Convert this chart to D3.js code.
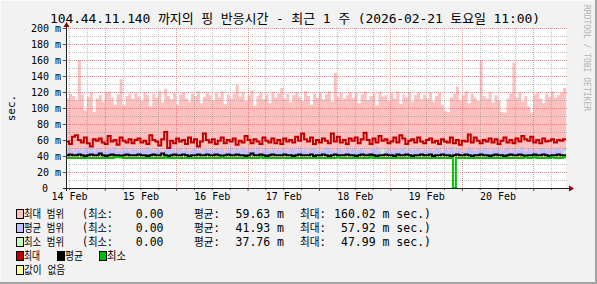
<!DOCTYPE html>
<html>
<head>
<meta charset="utf-8">
<script src="https://cdn.jsdelivr.net/npm/d3@7"></script>
<style>
html, body { margin: 0; padding: 0; background: #f2f2f2; }
svg { display: block; }
text { font-family: "DejaVu Sans Mono", "Noto Sans CJK KR", monospace; white-space: pre; }
</style>
</head>
<body>
<svg id="chart" width="597" height="284"></svg>
<script>
// chart text
const title = "104.44.11.140 까지의 핑 반응시간 - 최근 1 주 (2026-02-21 토요일 11:00)";
const yAxisTitle = "sec.";
const watermark = "RRDTOOL / TOBI OETIKER";

// time span: one week, hourly samples
const startTime = new Date(2026, 1, 14, 11, 0);
const endTime = new Date(2026, 1, 21, 11, 0);
const dayLabels = ["14 Feb", "15 Feb", "16 Feb", "17 Feb", "18 Feb", "19 Feb", "20 Feb"];

const yTicks = [0, 20, 40, 60, 80, 100, 120, 140, 160, 180, 200];
const yTickLabels = ["0", "20 m", "40 m", "60 m", "80 m", "100 m", "120 m", "140 m", "160 m", "180 m", "200 m"];

// max range top (ms)
const rangeMaxHi = [
  112,118,115,110,160,117,97,114,120,95,112,116,108,119,121,113,104,117,136,103,115,118,112,119,
  114,109,120,116,102,118,113,121,107,124,115,111,119,104,117,120,112,108,118,115,121,106,114,119,
  116,110,119,113,121,105,117,112,118,129,114,120,109,116,122,103,115,119,111,117,106,120,113,118,
  125,112,118,107,116,120,114,109,121,115,104,118,113,119,111,117,121,108,144,114,119,112,116,120,
  113,119,106,117,121,110,115,118,103,120,114,116,109,119,112,121,105,117,113,120,108,116,119,111,
  117,112,120,108,115,119,104,96,95,113,118,127,110,116,121,106,118,113,109,160,115,112,120,107,
  116,110,95,94,112,118,157,113,120,108,115,102,94,117,119,112,106,118,114,121,113,116,119,125
];
// max line (ms)
const maxLine = [
  58,55,64,66,60,57,63,56,52,61,59,62,57,55,65,58,60,54,63,59,57,61,56,60,
  62,57,59,55,66,60,58,53,61,70,50,59,56,62,58,60,55,63,57,61,52,58,68,60,
  57,61,55,59,63,56,60,58,62,54,59,57,65,60,56,61,58,55,63,59,57,62,56,60,
  55,62,58,60,57,64,59,68,61,58,63,55,60,57,62,59,56,68,58,64,57,60,55,62,
  59,63,56,61,69,60,55,62,57,65,59,61,56,58,63,57,66,62,55,59,61,57,63,58,
  56,60,62,57,59,55,61,58,57,63,56,60,54,59,58,67,57,63,59,56,60,58,62,57,
  61,55,59,63,57,60,56,62,58,65,61,59,64,57,60,56,62,58,59,61,57,60,59,61
];
// average range top (ms)
const rangeAvgHi = [
  47,49,46,50,48,45,51,47,49,46,48,50,47,45,49,48,51,46,48,47,50,46,49,48,
  46,49,47,51,48,46,50,47,45,49,48,52,46,48,50,47,49,46,48,51,47,45,49,48,
  48,46,50,47,49,45,48,51,46,49,47,50,48,46,49,47,51,45,48,50,46,49,47,48,
  47,50,46,48,49,46,51,47,48,45,49,50,47,46,48,51,49,47,46,50,48,45,49,47,
  49,46,48,50,47,45,49,48,52,46,48,47,50,46,49,47,48,51,46,49,47,48,50,46,
  48,47,49,46,50,48,45,49,47,51,46,48,49,45,47,50,48,46,49,47,51,48,46,49,
  47,49,46,48,50,45,49,47,48,51,46,49,47,48,46,50,49,47,48,46,49,51,47,50
];
// average line (ms)
const avgLine = [
  41,42,41,41,42,41,40,41,42,41,41,43,41,40,41,42,41,41,40,41,42,41,41,41,
  42,41,41,40,41,42,41,41,43,41,40,41,42,41,41,42,41,40,41,41,42,41,41,42,
  41,41,42,41,40,41,42,41,41,42,41,41,40,41,43,41,41,42,41,40,41,42,41,41,
  41,42,41,41,40,41,42,41,41,41,42,40,41,41,42,41,40,41,42,41,41,41,42,41,
  41,40,41,42,41,41,42,41,40,41,41,42,41,41,40,42,41,41,42,41,40,41,41,42,
  41,41,42,40,41,41,42,41,41,40,41,42,41,41,42,41,40,41,41,42,41,41,40,41,
  42,41,41,40,41,42,41,41,42,41,40,41,41,42,41,41,42,41,40,41,41,42,41,41
];
// min range top (ms)
const rangeMinHi = [
  38,38,38,38,38,38,38,38,38,38,38,38,38,38,38,38,38,38,38,38,38,38,38,38,
  38,38,38,38,38,38,38,38,38,38,38,38,38,38,38,38,38,38,38,38,38,38,38,38,
  38,38,38,38,38,38,38,38,38,38,38,38,38,38,38,38,38,38,38,38,38,38,38,38,
  38,38,38,38,38,38,38,38,38,38,38,38,38,38,38,38,38,38,38,38,38,38,38,38,
  38,38,38,38,38,38,38,38,38,38,48,38,38,38,38,38,38,38,38,38,38,38,38,38,
  38,38,38,38,38,38,38,38,38,38,38,38,38,38,38,38,38,38,38,38,38,38,38,38,
  38,38,38,38,38,38,38,38,38,38,38,38,38,38,38,38,38,38,38,38,38,38,38,46
];
// min line (ms)
const minLine = [
  37.5,37.5,37.5,37.5,37.5,37.5,37.5,37.5,37.5,37.5,37.5,37.5,37.5,37.5,37.5,37.5,38.5,38.5,38.5,37.5,37.5,37.5,37.5,37.5,
  37.5,37.5,37.5,37.5,37.5,37.5,37.5,37.5,37.5,38.5,37.5,37.5,37.5,37.5,37.5,37.5,37.5,37.5,37.5,37.5,37.5,37.5,37.5,37.5,
  37.5,37.5,37.5,37.5,38.5,37.5,37.5,37.5,37.5,37.5,37.5,37.5,37.5,37.5,37.5,37.5,37.5,38.5,37.5,37.5,37.5,37.5,37.5,37.5,
  37.5,37.5,37.5,37.5,37.5,37.5,37.5,37.5,37.5,37.5,37.5,37.5,37.5,37.5,37.5,37.5,37.5,37.5,37.5,38.5,37.5,37.5,37.5,37.5,
  37.5,37.5,37.5,37.5,37.5,37.5,38.5,37.5,37.5,37.5,37.5,37.5,37.5,37.5,37.5,37.5,37.5,37.5,37.5,37.5,37.5,37.5,37.5,37.5,
  37.5,37.5,37.5,37.5,37.5,37.5,37.5,37.5,37.5,37.5,0,37.5,37.5,37.5,37.5,37.5,37.5,37.5,37.5,37.5,37.5,37.5,37.5,37.5,
  37.5,37.5,37.5,37.5,37.5,37.5,37.5,37.5,37.5,37.5,38.5,37.5,37.5,38.5,37.5,37.5,37.5,37.5,37.5,38.5,37.5,37.5,37.5,38.5
];

// legend
const legendNames = ["최대 범위", "평균 범위", "최소 범위"];
const legendColors = ["#ffc0c0", "#c0c0ff", "#c0ffc0"];
const legendMin = ["0.00", "0.00", "0.00"];
const legendAvg = ["59.63 m", "41.93 m", "37.76 m"];
const legendMax = ["160.02 m sec.)", " 57.92 m sec.)", " 47.99 m sec.)"];
const lineNames = ["최대", "평균", "최소"];
const lineColors = ["#c00000", "#000000", "#00c000"];

document.addEventListener('DOMContentLoaded', function() {
    const svg = d3.select('#chart');
    const W = 597, H = 284;

    // frame
    svg.append('rect').attr('width', W).attr('height', H).attr('fill', '#f2f2f2');
    svg.append('rect').attr('x', 0).attr('y', H - 2).attr('width', W).attr('height', 2).attr('fill', '#a3a3a3');
    svg.append('rect').attr('x', W - 2).attr('y', 0).attr('width', 2).attr('height', H).attr('fill', '#a3a3a3');
    svg.append('rect').attr('x', 0).attr('y', 0).attr('width', W - 2).attr('height', 1).attr('fill', '#fbfbfb');
    svg.append('rect').attr('x', 0).attr('y', 0).attr('width', 1).attr('height', H - 2).attr('fill', '#fbfbfb');

    const x = d3.scaleTime().domain([startTime, endTime]).range([66, 566]);
    const y = d3.scaleLinear().domain([0, 200]).range([188, 28]);

    // canvas
    svg.append('rect').attr('x', 66).attr('y', 28).attr('width', 500).attr('height', 160).attr('fill', '#ffffff');

    const rows = rangeMaxHi.map((v, i) => ({
        t: d3.timeHour.offset(startTime, i),
        maxHi: v, max: maxLine[i], avgHi: rangeAvgHi[i], avg: avgLine[i],
        minHi: rangeMinHi[i], min: minLine[i]
    }));
    // last step runs to the end of the window
    rows.push(Object.assign({}, rows[rows.length - 1], { t: endTime }));

    const band = (lo, hi) => d3.area().curve(d3.curveStepAfter)
        .x(d => x(d.t)).y0(d => y(lo(d))).y1(d => y(hi(d)));
    const stepLine = f => d3.line().curve(d3.curveStepAfter).x(d => x(d.t)).y(d => y(f(d)));

    // range areas
    const areas = svg.append('g');
    areas.append('path').datum(rows).attr('fill', legendColors[0]).attr('d', band(d => d.avg, d => d.maxHi));
    areas.append('path').datum(rows).attr('fill', legendColors[1]).attr('d', band(d => d.avg, d => d.avgHi));
    areas.append('path').datum(rows).attr('fill', legendColors[2]).attr('d', band(d => d.avg, d => Math.max(d.minHi, d.avg)));

    // grid, drawn over the areas
    const grid = svg.append('g').attr('shape-rendering', 'crispEdges').attr('stroke-dasharray', '1,1');
    const minorY = d3.range(10, 200, 20);
    grid.selectAll('.hminor').data(minorY).enter().append('line')
        .attr('x1', 66).attr('x2', 568).attr('y1', d => y(d) + 0.5).attr('y2', d => y(d) + 0.5)
        .attr('stroke', 'rgba(130,130,130,0.5)');
    grid.selectAll('.hmajor').data(yTicks.slice(1)).enter().append('line')
        .attr('x1', 66).attr('x2', 568).attr('y1', d => y(d) + 0.5).attr('y2', d => y(d) + 0.5)
        .attr('stroke', 'rgba(225,50,50,0.5)');
    const sixHours = d3.timeHour.every(6).range(d3.timeHour.offset(startTime, 1), endTime);
    grid.selectAll('.vline').data(sixHours).enter().append('line')
        .attr('x1', d => Math.round(x(d)) + 0.5).attr('x2', d => Math.round(x(d)) + 0.5)
        .attr('y1', 28).attr('y2', 188)
        .attr('stroke', d => d.getHours() === 0 ? 'rgba(225,50,50,0.5)' : 'rgba(130,130,130,0.5)');

    // lines
    const lines = svg.append('g');
    lines.append('path').datum(rows).attr('fill', 'none').attr('stroke', lineColors[0]).attr('stroke-width', 2).attr('d', stepLine(d => d.max));
    lines.append('path').datum(rows).attr('fill', 'none').attr('stroke', lineColors[1]).attr('stroke-width', 2).attr('d', stepLine(d => d.avg));
    lines.append('path').datum(rows).attr('fill', 'none').attr('stroke', lineColors[2]).attr('stroke-width', 2).attr('d', stepLine(d => d.min));

    // Y axis
    const yAxis = svg.append('g').attr('transform', 'translate(66,0)')
        .call(d3.axisLeft(y).tickValues(yTicks).tickFormat((d, i) => yTickLabels[i]).tickSize(3).tickPadding(2).tickSizeOuter(0));
    yAxis.select('.domain').remove();
    yAxis.selectAll('line').attr('stroke', '#555');
    yAxis.selectAll('text').attr('font-family', '"DejaVu Sans Mono", monospace').attr('font-size', 10).attr('fill', '#000').attr('dy', '0.36em');
    // the bare zero lines up with the digits, not the unit
    yAxis.selectAll('text').filter(d => d === 0).attr('dx', -13);

    // X axis labels at noon of each day
    const noons = dayLabels.map((_, i) => d3.timeHour.offset(d3.timeDay.offset(d3.timeDay.floor(startTime), i), 12));
    const xAxis = svg.append('g').attr('transform', 'translate(0,188)')
        .call(d3.axisBottom(x).tickValues(noons).tickFormat((d, i) => dayLabels[i]).tickSize(0).tickPadding(5).tickSizeOuter(0));
    xAxis.select('.domain').remove();
    xAxis.selectAll('text').attr('font-family', '"DejaVu Sans Mono", monospace').attr('font-size', 10).attr('fill', '#000');

    const xTicks = svg.append('g').attr('transform', 'translate(0,188)')
        .call(d3.axisBottom(x).tickValues(sixHours).tickFormat('').tickSize(2).tickSizeOuter(0));
    xTicks.select('.domain').remove();
    xTicks.selectAll('line').attr('stroke', '#555').attr('y2', d => d.getHours() === 0 ? 3 : 2);

    // axis lines and arrows
    svg.append('line').attr('x1', 63).attr('x2', 570).attr('y1', 188.5).attr('y2', 188.5).attr('stroke', '#222');
    svg.append('line').attr('x1', 66.5).attr('x2', 66.5).attr('y1', 191).attr('y2', 25).attr('stroke', '#222');
    svg.append('path').attr('d', 'M569,185.5 L574,188.5 L569,191.5 Z').attr('fill', '#8b0000');
    svg.append('path').attr('d', 'M63.5,27 L66.5,22 L69.5,27 Z').attr('fill', '#8b0000');

    // titles
    svg.append('text').attr('x', 50).attr('y', 23).attr('font-size', 13)
        .attr('textLength', 490).attr('lengthAdjust', 'spacing').attr('fill', '#000').text(title);
    svg.append('text').attr('transform', 'translate(15,108) rotate(-90)').attr('text-anchor', 'middle')
        .attr('font-size', 11).attr('fill', '#000').text(yAxisTitle);
    svg.append('text').attr('transform', 'translate(584,5) rotate(90)')
        .attr('font-size', 8).attr('fill', '#b4b4b4').text(watermark);

    // legend
    const lg = svg.append('g').attr('font-size', 11.5).attr('fill', '#000');
    const base = k => 218 + 14 * k;
    const swatch = (sx, k, color) => lg.append('rect').attr('x', sx + 0.5).attr('y', base(k) - 8.5)
        .attr('width', 7).attr('height', 9).attr('fill', color).attr('stroke', '#000').attr('stroke-width', 1);
    const squeezed = (tx, k, s, len) => lg.append('text').attr('x', tx).attr('y', base(k))
        .attr('textLength', len).attr('lengthAdjust', 'spacingAndGlyphs').text(s);

    legendNames.forEach((name, k) => {
        swatch(16, k, legendColors[k]);
        squeezed(24, k, name, 40);
        squeezed(82, k, '(최소:', 31);
        lg.append('text').attr('x', 163.5).attr('y', base(k)).attr('text-anchor', 'end').text(legendMin[k]);
        squeezed(194, k, '평균:', 26);
        lg.append('text').attr('x', 284).attr('y', base(k)).attr('text-anchor', 'end').text(legendAvg[k]);
        squeezed(300, k, '최대:', 26);
        lg.append('text').attr('x', 431).attr('y', base(k)).attr('text-anchor', 'end').text(legendMax[k]);
    });

    const lineSwatchX = [16, 57, 99];
    const lineTextLen = [16, 18, 19];
    lineNames.forEach((name, i) => {
        swatch(lineSwatchX[i], 3, lineColors[i]);
        squeezed(lineSwatchX[i] + 8, 3, name, lineTextLen[i]);
    });

    swatch(16, 4, '#ffffa0');
    squeezed(24, 4, '값이 없음', 41);
});
</script>
</body>
</html>
